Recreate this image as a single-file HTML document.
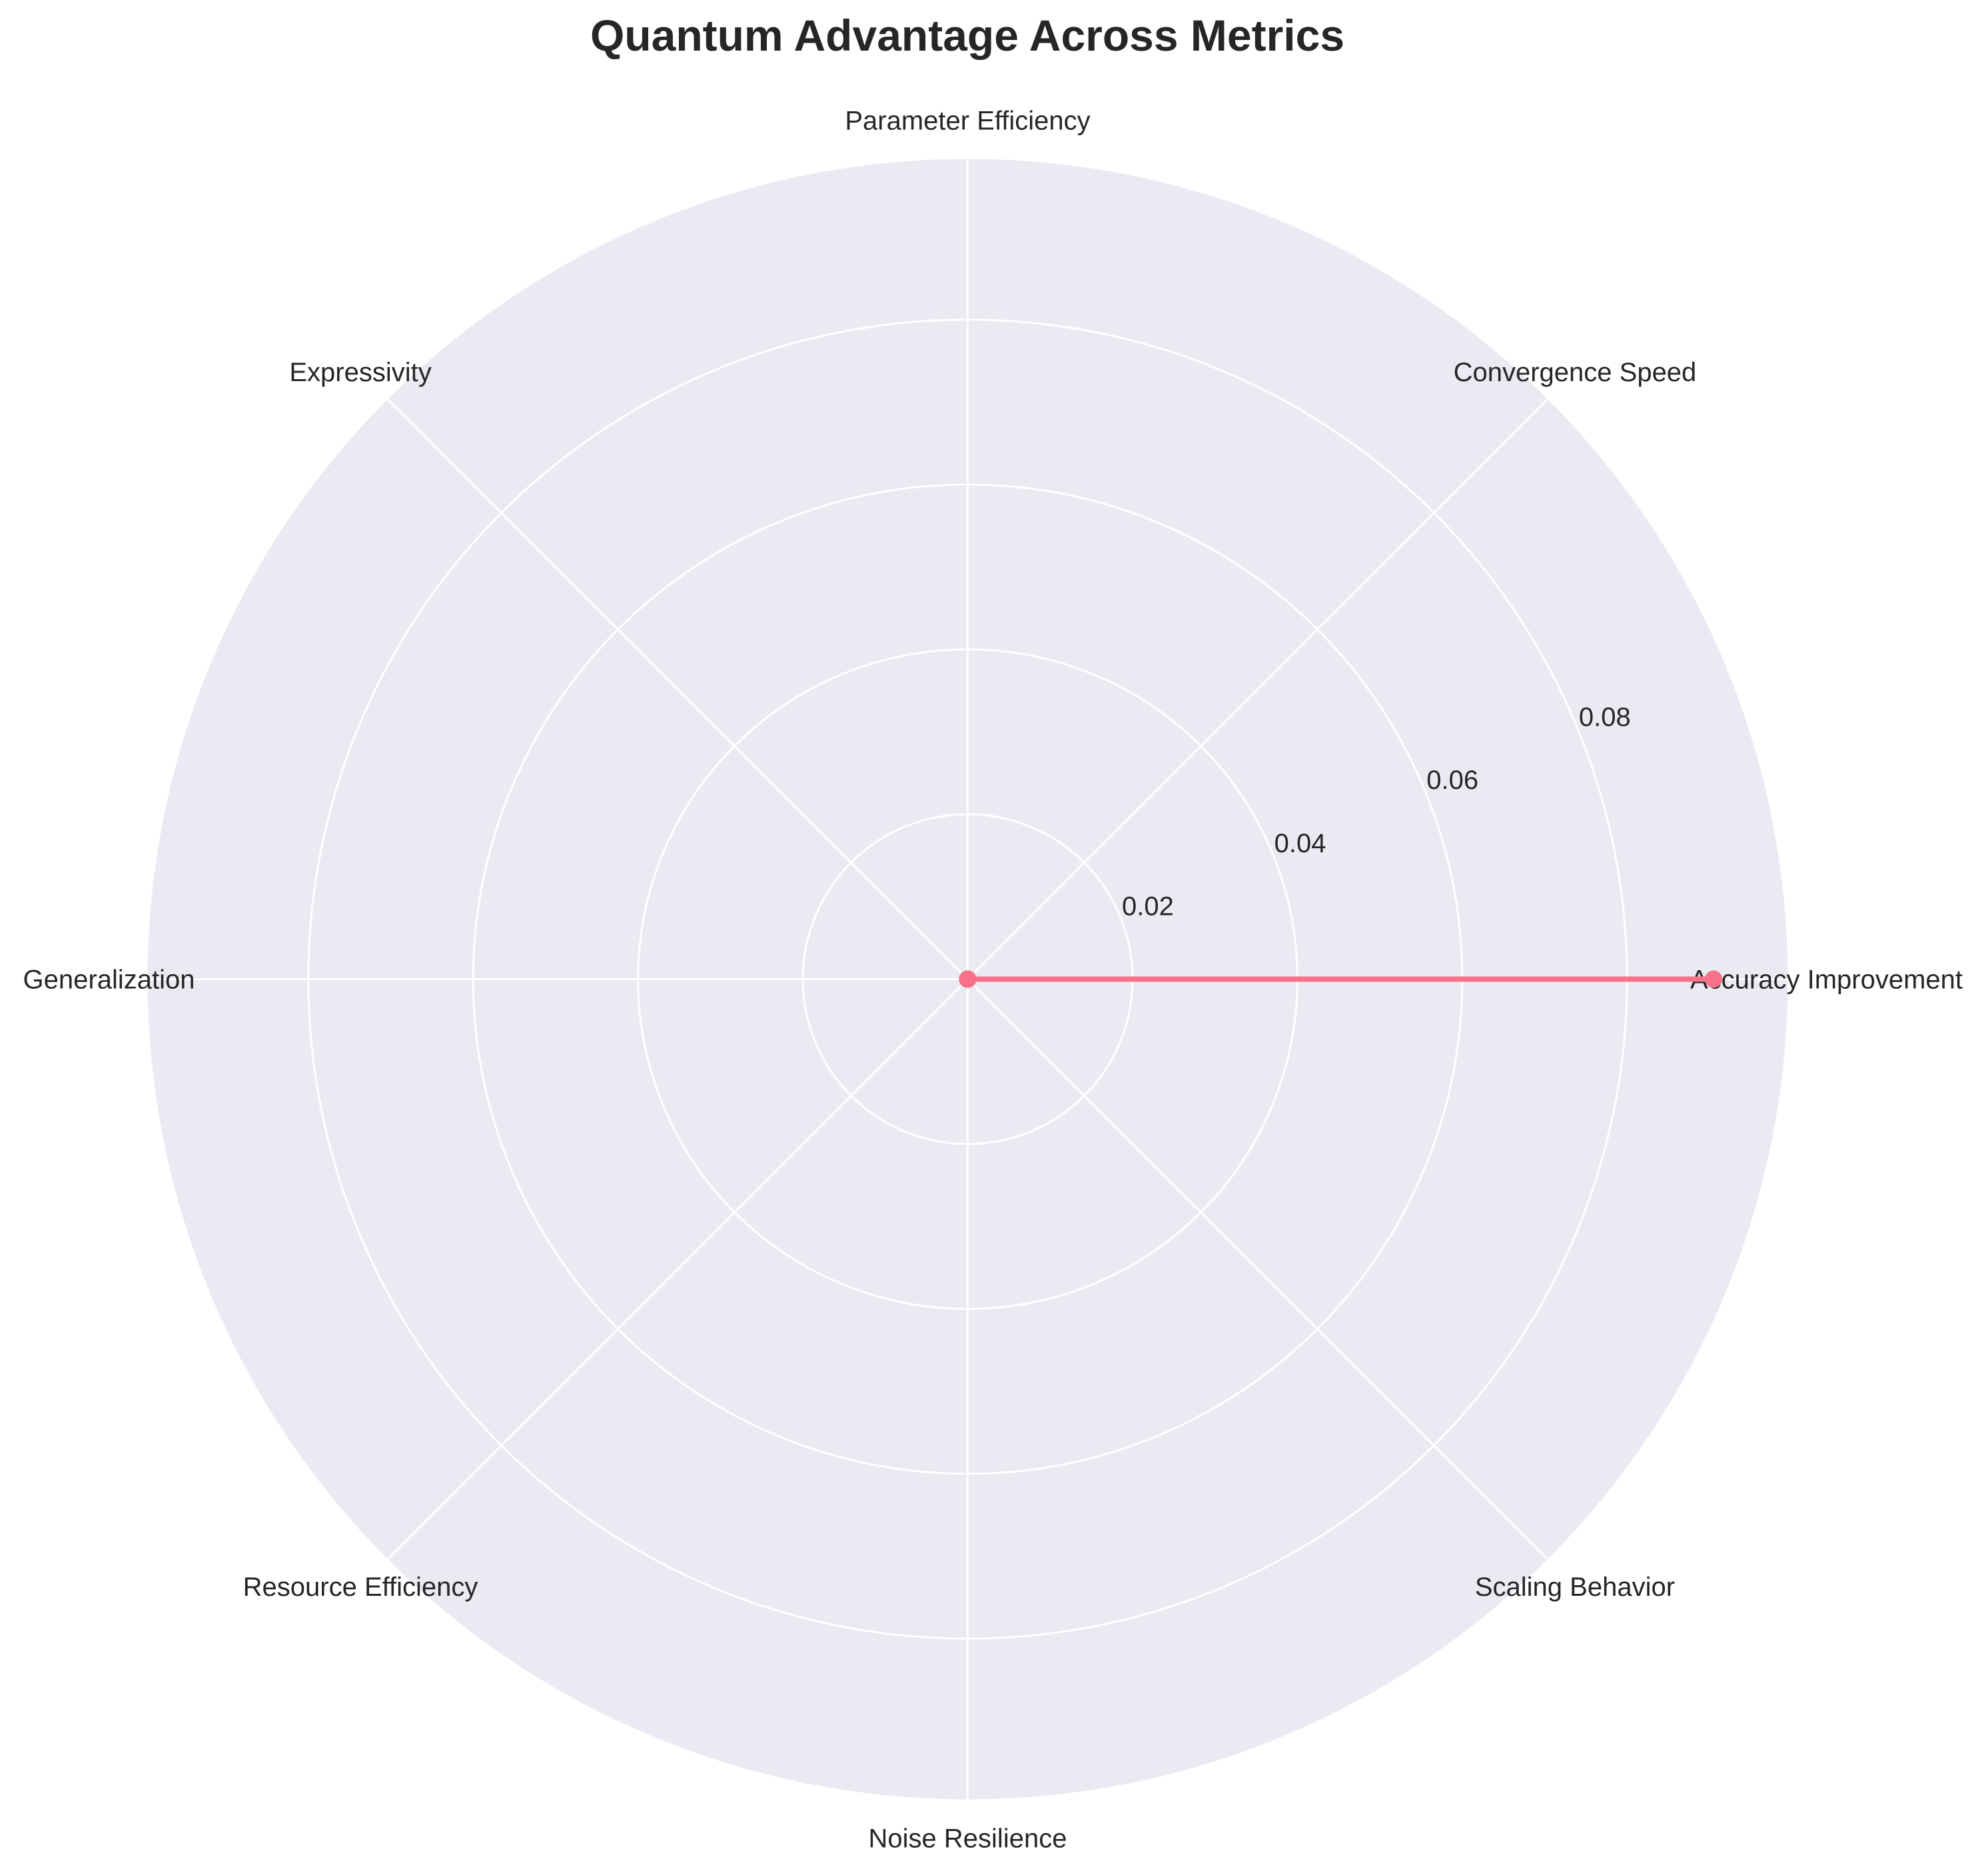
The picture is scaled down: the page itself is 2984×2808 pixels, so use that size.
<!DOCTYPE html>
<html><head><meta charset="utf-8"><style>
html,body{margin:0;padding:0;background:#fff;}
svg{display:block;font-family:"Liberation Sans",sans-serif;}
</style></head><body>
<svg id="chart" width="2984" height="2808" viewBox="0 0 2984 2808">
<text x="1452" y="76" text-anchor="middle" font-size="66" font-weight="bold" fill="#262626">Quantum Advantage Across Metrics</text>
<g id="grid"></g><g id="labels"></g><g id="series"></g>
</svg>
<script>
const categories = ["Accuracy Improvement","Convergence Speed","Parameter Efficiency","Expressivity","Generalization","Resource Efficiency","Noise Resilience","Scaling Behavior"];
const values = [0.0905,0,0,0,0,0,0,0];
const ticks = [0.02,0.04,0.06,0.08];
const tickLabels = ["0.02","0.04","0.06","0.08"];
const rMax = 0.0995;
const cx=1452.5, cy=1469.5, R=1231;
const NS="http://www.w3.org/2000/svg";
function rScale(v){return v/rMax*R;}
function pt(i,v){const a=i/categories.length*2*Math.PI;const r=rScale(v);return [cx+r*Math.cos(a),cy-r*Math.sin(a)];}
function mk(tag,attrs,parent){const e=document.createElementNS(NS,tag);for(const k in attrs)e.setAttribute(k,attrs[k]);parent.appendChild(e);return e;}
const grid=document.getElementById('grid'),ser=document.getElementById('series'),lab=document.getElementById('labels');
const bg=mk('circle',{cx:cx,cy:cy,r:R,fill:'#eaeaf2'},grid);


ticks.forEach((t,k)=>{
  const c=mk('circle',{cx:cx,cy:cy,r:rScale(t),fill:'none',stroke:'#fff','stroke-width':3},grid);
  
  
  const a=22.5*Math.PI/180, r=rScale(t)+40;
  const tx=mk('text',{x:cx+r*Math.cos(a)-34,y:cy-r*Math.sin(a)+14,'font-size':40,fill:'#262626'},lab);
  tx.textContent=tickLabels[k];
  
  
});
categories.forEach((c,i)=>{
  const [x,y]=pt(i,rMax);
  const l=mk('line',{x1:cx,y1:cy,x2:x,y2:y,stroke:'#fff','stroke-width':3},grid);
  
  
  const a=i/categories.length*2*Math.PI, r=1289;
  const lx=cx+r*Math.cos(a), ly=cy-r*Math.sin(a);
  const t=mk('text',{x:lx,y:ly+14,'font-size':40,fill:'#262626','text-anchor':'middle'},lab);
  t.textContent=c;
  
  
});
const pts=values.map((v,i)=>pt(i,v));
const poly=mk('polygon',{points:pts.map(p=>p.join(',')).join(' '),fill:'none',stroke:'#f77189','stroke-width':8,'stroke-linejoin':'round'},ser);


pts.forEach(p=>{
  const m=mk('circle',{cx:p[0],cy:p[1],r:13,fill:'#f77189'},ser);
  
  
});
</script>
</body></html>
